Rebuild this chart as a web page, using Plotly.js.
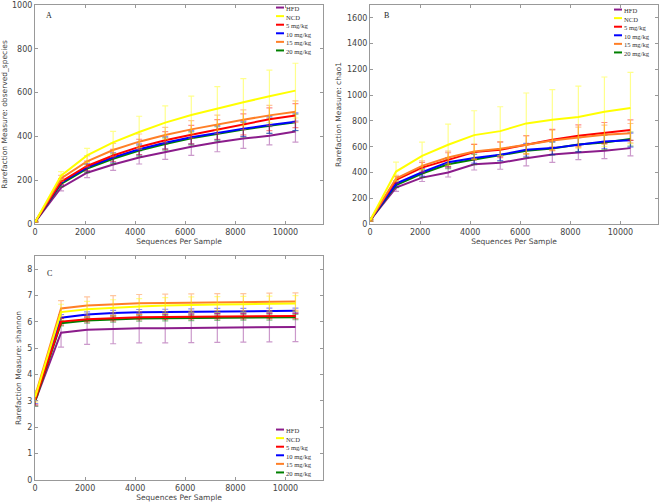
<!DOCTYPE html>
<html>
<head>
<meta charset="utf-8">
<script src="https://cdn.plot.ly/plotly-3.0.1.min.js"></script>
<style>html,body{margin:0;padding:0;background:#fff;}#chart{width:660px;height:504px;}</style>
</head>
<body>
<div id="chart"></div>
<script>
// ---- data ----
const seqDepth = [10, 1040, 2080, 3120, 4160, 5200, 6240, 7280, 8320, 9360, 10400];
const xTicks = [0, 2000, 4000, 6000, 8000, 10000];
const xTickLabels = ['0', '2000', '4000', '6000', '8000', '10000'];
const groups = ['HFD', 'NCD', '5 mg/kg', '10 mg/kg', '15 mg/kg', '20 mg/kg'];
const groupColors = ['#8B1C8B', '#FFFF00', '#FF0000', '#0000FF', '#FF7F27', '#008000'];

// observed_species means
const obsHFD = [10, 166, 234, 272, 304, 330, 353, 373, 390, 403, 422];
const obsNCD = [10, 221, 313, 373, 420, 463, 498, 528, 556, 583, 609];
const obs5 = [10, 193, 265, 313, 352, 382, 408, 432, 455, 478, 495];
const obs10 = [10, 189, 259, 304, 341, 371, 396, 417, 435, 452, 467];
const obs15 = [10, 208, 286, 338, 376, 406, 432, 455, 476, 496, 513];
const obs20 = [10, 183, 253, 298, 335, 365, 391, 412, 431, 449, 464];
// observed_species error
const obsErrHFD = [2, 15, 22, 27, 30, 35, 40, 43, 45, 42, 48];
const obsErrNCD = [2, 18, 32, 50, 72, 76, 86, 99, 108, 120, 125];
const obsErr5 = [2, 14, 22, 28, 35, 40, 42, 45, 48, 52, 55];
const obsErr10 = [2, 12, 18, 22, 25, 28, 30, 32, 35, 38, 40];
const obsErr15 = [2, 14, 25, 30, 35, 35, 40, 42, 45, 46, 49];
const obsErr20 = [2, 12, 18, 22, 25, 28, 30, 32, 33, 35, 38];

// chao1 means
const chaoHFD = [30, 283, 360, 400, 464, 475, 511, 539, 555, 568, 589];
const chaoNCD = [30, 407, 529, 615, 690, 721, 781, 809, 830, 871, 900];
const chao5 = [30, 342, 438, 498, 558, 576, 615, 654, 685, 708, 729];
const chao10 = [30, 314, 402, 480, 513, 537, 576, 589, 615, 641, 651];
const chao15 = [30, 353, 451, 516, 563, 584, 615, 648, 672, 692, 705];
const chao20 = [30, 303, 392, 464, 500, 534, 568, 586, 617, 633, 659];
// chao1 error
const chaoErrHFD = [8, 30, 30, 35, 45, 50, 60, 60, 55, 60, 60];
const chaoErrNCD = [8, 73, 106, 160, 189, 189, 236, 234, 241, 270, 277];
const chaoErr5 = [8, 25, 40, 55, 60, 60, 70, 80, 85, 80, 80];
const chaoErr10 = [8, 20, 30, 35, 40, 45, 50, 50, 55, 55, 55];
const chaoErr15 = [8, 25, 40, 50, 55, 55, 70, 80, 80, 75, 75];
const chaoErr20 = [8, 20, 30, 35, 40, 45, 50, 50, 55, 55, 55];

// shannon means
const shanHFD = [3.0, 5.59, 5.70, 5.73, 5.76, 5.76, 5.77, 5.78, 5.79, 5.80, 5.81];
const shanNCD = [3.15, 6.37, 6.48, 6.54, 6.58, 6.62, 6.65, 6.66, 6.67, 6.68, 6.70];
const shan5 = [3.05, 6.01, 6.10, 6.14, 6.18, 6.19, 6.20, 6.21, 6.21, 6.22, 6.22];
const shan10 = [3.1, 6.16, 6.28, 6.34, 6.37, 6.38, 6.39, 6.41, 6.41, 6.42, 6.42];
const shan15 = [3.2, 6.51, 6.62, 6.67, 6.71, 6.72, 6.73, 6.75, 6.75, 6.76, 6.77];
const shan20 = [3.0, 5.95, 6.05, 6.09, 6.13, 6.14, 6.15, 6.16, 6.17, 6.17, 6.18];
// shannon error
const shanErrHFD = [0.2, 0.55, 0.55, 0.56, 0.56, 0.56, 0.56, 0.56, 0.56, 0.56, 0.56];
const shanErrNCD = [0.2, 0.3, 0.3, 0.3, 0.3, 0.3, 0.3, 0.3, 0.3, 0.3, 0.3];
const shanErr5 = [0.2, 0.12, 0.1, 0.1, 0.1, 0.1, 0.1, 0.1, 0.1, 0.1, 0.1];
const shanErr10 = [0.2, 0.12, 0.1, 0.1, 0.1, 0.1, 0.1, 0.1, 0.1, 0.1, 0.1];
const shanErr15 = [0.2, 0.3, 0.33, 0.33, 0.33, 0.33, 0.33, 0.32, 0.32, 0.33, 0.33];
const shanErr20 = [0.2, 0.1, 0.1, 0.1, 0.1, 0.1, 0.1, 0.1, 0.1, 0.1, 0.1];

const panels = [
  {label: 'A', xa: 'x', ya: 'y', means: [obsHFD, obsNCD, obs5, obs10, obs15, obs20],
   errs: [obsErrHFD, obsErrNCD, obsErr5, obsErr10, obsErr15, obsErr20]},
  {label: 'B', xa: 'x2', ya: 'y2', means: [chaoHFD, chaoNCD, chao5, chao10, chao15, chao20],
   errs: [chaoErrHFD, chaoErrNCD, chaoErr5, chaoErr10, chaoErr15, chaoErr20]},
  {label: 'C', xa: 'x3', ya: 'y3', means: [shanHFD, shanNCD, shan5, shan10, shan15, shan20],
   errs: [shanErrHFD, shanErrNCD, shanErr5, shanErr10, shanErr15, shanErr20]}
];

function rgba(hex, a) {
  const n = parseInt(hex.slice(1), 16);
  return 'rgba(' + ((n >> 16) & 255) + ',' + ((n >> 8) & 255) + ',' + (n & 255) + ',' + a + ')';
}

const W = 660, H = 504;
const px = v => v / W;
const py = v => 1 - v / H;

const traces = [];
const drawOrder = [0, 5, 3, 2, 4, 1];
panels.forEach(p => {
  drawOrder.forEach(i => {
    traces.push({
      type: 'scatter', mode: 'lines', x: seqDepth, y: p.means[i], name: groups[i],
      xaxis: p.xa, yaxis: p.ya, showlegend: false,
      line: {color: groupColors[i], width: 2},
      error_y: {type: 'data', array: p.errs[i], visible: true, color: rgba(groupColors[i], 0.45), thickness: 1.2, width: 3}
    });
  });
});

const shapes = [];
const annotations = [];
const legendFont = 6.6;
const legendLH = legendFont * 1.3;
function addLegend(xLine, yMid) {
  groups.forEach((g, i) => {
    const y = yMid + (i - 2.5) * legendLH;
    shapes.push({type: 'line', xref: 'paper', yref: 'paper', x0: px(xLine), x1: px(xLine + 8), y0: py(y), y1: py(y),
      line: {color: groupColors[i], width: 2}});
  });
  annotations.push({xref: 'paper', yref: 'paper', x: px(xLine + 8.5), y: py(yMid + 0.6), xanchor: 'left', yanchor: 'middle',
    align: 'left', borderpad: 0, text: groups.join('<br>'), showarrow: false,
    font: {family: 'Liberation Serif', size: legendFont, color: '#333'}});
}
addLegend(276, 29);
addLegend(614, 31);
addLegend(276, 451);

const labelPos = [[49, 15], [387, 15], [49, 273]];
panels.forEach((p, k) => {
  annotations.push({xref: 'paper', yref: 'paper', x: px(labelPos[k][0]), y: py(labelPos[k][1]), xanchor: 'center', yanchor: 'middle',
    text: p.label, showarrow: false, font: {family: 'Liberation Serif', size: 8, color: '#222'}});
});

function axisBase(extra) {
  return Object.assign({
    showline: true, linecolor: '#999', linewidth: 1, mirror: 'ticks', ticks: 'inside', ticklen: 3, tickcolor: '#999',
    showgrid: false, zeroline: false, tickfont: {family: 'DejaVu Sans', size: 8, color: '#444'}
  }, extra);
}
const titleFont = {family: 'DejaVu Sans', size: 7.5, color: '#444'};
const xTitle = {text: 'Sequences Per Sample', font: titleFont, standoff: 3};
const xAxisExtra = {range: [0, 11500], tickmode: 'array', tickvals: xTicks, ticktext: xTickLabels, title: xTitle};

const layout = {
  width: W, height: H, margin: {l: 0, r: 0, t: 0, b: 0}, paper_bgcolor: '#fff', plot_bgcolor: '#fff',
  showlegend: false,
  xaxis: axisBase(Object.assign({domain: [px(35), px(323)], anchor: 'y'}, xAxisExtra)),
  yaxis: axisBase({domain: [py(224), py(5)], range: [0, 1000], dtick: 200, anchor: 'x',
    title: {text: 'Rarefaction Measure: observed_species', font: titleFont, standoff: 4}}),
  xaxis2: axisBase(Object.assign({domain: [px(370), px(658)], anchor: 'y2'}, xAxisExtra)),
  yaxis2: axisBase({domain: [py(224), py(5)], range: [0, 1700], dtick: 200, anchor: 'x2',
    title: {text: 'Rarefaction Measure: chao1', font: titleFont, standoff: 4}}),
  xaxis3: axisBase(Object.assign({domain: [px(35), px(323)], anchor: 'y3'}, xAxisExtra)),
  yaxis3: axisBase({domain: [py(480), py(256)], range: [0, 8.5], dtick: 1, anchor: 'x3',
    title: {text: 'Rarefaction Measure: shannon', font: titleFont, standoff: 4}}),
  shapes: shapes,
  annotations: annotations
};

Plotly.newPlot('chart', traces, layout, {displayModeBar: false, staticPlot: true});
</script>
</body>
</html>
